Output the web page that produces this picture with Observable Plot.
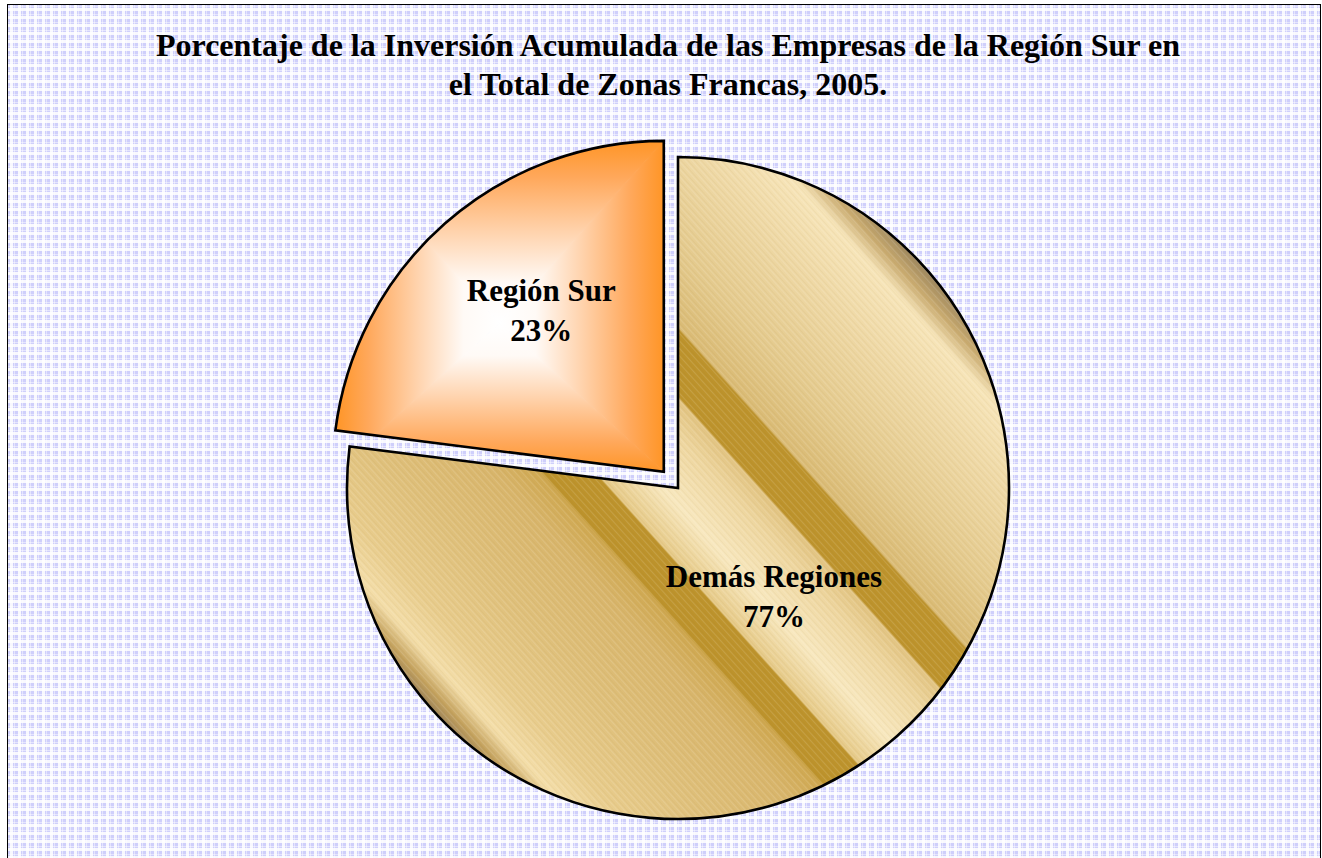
<!DOCTYPE html>
<html>
<head>
<meta charset="utf-8">
<script src="https://cdn.jsdelivr.net/npm/d3@7"></script>
<script src="https://cdn.jsdelivr.net/npm/@observablehq/plot@0.6"></script>
<style>
  html, body { margin: 0; padding: 0; width: 1322px; height: 858px; overflow: hidden; background: #ffffff; }
  #frame {
    position: absolute; left: 7px; top: 4px; width: 1314px; height: 880px;
    border: 1px solid #000; box-sizing: border-box;
    background-color: #cfcffb;
    background-image:
      linear-gradient(90deg, transparent 0 2px, rgba(255,255,255,0.85) 2px 5px, transparent 5px 6px, rgba(255,255,255,0.45) 6px 7px, transparent 7px),
      linear-gradient(0deg, transparent 0 2px, rgba(255,255,255,0.85) 2px 5px, transparent 5px 6px, rgba(255,255,255,0.45) 6px 7px, transparent 7px);
    background-size: 8px 8px;
  }
  #title {
    position: absolute; left: 7px; top: 0; width: 1322px; text-align: center;
    font: bold 32px "Liberation Serif", "Times New Roman", serif; line-height: 39px;
    padding-top: 26px; color: #000;
  }
  #chart { position: absolute; left: 0; top: 0; }
  #chart text { font-family: "Liberation Serif", "Times New Roman", serif; }
</style>
</head>
<body>
<div id="frame"></div>
<div id="title">Porcentaje de la Inversión Acumulada de las Empresas de la Región Sur en<br>el Total de Zonas Francas, 2005.</div>
<div id="chart"></div>
<script>
// ---- data ----
const categories = ["Demás Regiones", "Región Sur"];
const values = [77, 23];
const percentLabels = ["77%", "23%"];

// ---- presentation settings ----
const explodedCategory = "Región Sur";
const explodeOffset = 0.065;               // fraction of radius
const labelRadius = {"Demás Regiones": 0.43, "Región Sur": 0.62};
const labelAngleShift = {"Demás Regiones": -0.7, "Región Sur": 4.6}; // degrees

const pie = d3.pie().sort(null).startAngle(0).endAngle(2 * Math.PI)(values);
const slices = pie.map((p, i) => {
  const mid = (p.startAngle + p.endAngle) / 2;
  const off = categories[i] === explodedCategory ? explodeOffset : 0;
  const la = mid + labelAngleShift[categories[i]] * Math.PI / 180;
  const lr = labelRadius[categories[i]];
  return {
    category: categories[i],
    value: values[i],
    pct: percentLabels[i],
    startAngle: p.startAngle,
    endAngle: p.endAngle,
    ox: off * Math.sin(mid),
    oy: off * Math.cos(mid),
    lx: off * Math.sin(mid) + lr * Math.sin(la),
    ly: off * Math.cos(mid) + lr * Math.cos(la)
  };
});

function pieMark(index, scales) {
  const X = scales.x, Y = scales.y;
  const cx = X(0), cy = Y(0), R = X(1) - X(0);
  const g = d3.create("svg:g");
  const defs = g.append("defs");

  // gold striped gradient (along normal of 48deg stripes)
  const nx = Math.cos(-42 * Math.PI / 180), ny = Math.sin(-42 * Math.PI / 180);
  const gold = defs.append("linearGradient").attr("id", "goldGrad")
    .attr("gradientUnits", "userSpaceOnUse")
    .attr("x1", -nx * R).attr("y1", -ny * R).attr("x2", nx * R).attr("y2", ny * R);
  const v = t => (t + 331) / 662;
  [[-331, "#a0865a"], [-318, "#c4a25e"], [-298, "#f4dea9"], [-262, "#e8cc8c"], [-200, "#dfc07b"],
   [-125, "#d8b56b"], [-92, "#cfa850"], [-90, "#bd932c"], [-52, "#bd932c"], [-50, "#e6ca88"],
   [-12, "#f8e8bf"], [35, "#eed69f"], [60, "#e2c482"], [62, "#bd932c"], [106, "#bd932c"],
   [108, "#dabb75"], [160, "#e4ca8d"], [240, "#efd9a6"], [292, "#f7e5b9"], [312, "#c9ab70"], [331, "#9c865e"]]
    .forEach(([t, c]) => gold.append("stop").attr("offset", v(t)).attr("stop-color", c));

  // fine line texture
  const pat = defs.append("pattern").attr("id", "goldLines")
    .attr("patternUnits", "userSpaceOnUse").attr("width", 7).attr("height", 5)
    .attr("patternTransform", "rotate(48)");
  pat.append("rect").attr("x", 0).attr("y", 0).attr("width", 7).attr("height", 1).attr("fill", "#ffffff").attr("opacity", 0.12);
  pat.append("rect").attr("x", 0).attr("y", 3).attr("width", 7).attr("height", 1).attr("fill", "#8a6a20").attr("opacity", 0.06);

  const arc = d3.arc().innerRadius(0).outerRadius(R);

  slices.forEach((s) => {
    const tx = cx + (X(s.ox) - X(0)), ty = cy + (Y(s.oy) - Y(0));
    const d = arc({startAngle: s.startAngle, endAngle: s.endAngle});
    if (s.category === explodedCategory) {
      // rectangular "from center" gradient
      const pts = [[0, 0]];
      for (let k = 0; k <= 60; k++) {
        const a = s.startAngle + (s.endAngle - s.startAngle) * k / 60;
        pts.push([R * Math.sin(a), -R * Math.cos(a)]);
      }
      const [x0, x1] = d3.extent(pts, p => p[0]);
      const [y0, y1] = d3.extent(pts, p => p[1]);
      const mx = (x0 + x1) / 2, my = (y0 + y1) / 2 + 0.05 * (y1 - y0);
      const clipId = "clipSur";
      defs.append("clipPath").attr("id", clipId).append("path").attr("d", d)
        .attr("transform", `translate(${tx},${ty})`);
      const stops = [[0, "#ffffff"], [0.22, "#fffaf6"], [0.5, "#ffd3ad"], [0.8, "#ffa85b"], [1, "#ff9526"]];
      const sides = [
        {id: "gL", ex: x0, ey: my, tri: [[mx, my], [x0, y0], [x0, y1]]},
        {id: "gR", ex: x1, ey: my, tri: [[mx, my], [x1, y0], [x1, y1]]},
        {id: "gT", ex: mx, ey: y0, tri: [[mx, my], [x0, y0], [x1, y0]]},
        {id: "gB", ex: mx, ey: y1, tri: [[mx, my], [x0, y1], [x1, y1]]}
      ];
      const clipG = g.append("g").attr("clip-path", `url(#${clipId})`);
      sides.forEach(sd => {
        const lg = defs.append("linearGradient").attr("id", sd.id).attr("gradientUnits", "userSpaceOnUse")
          .attr("x1", mx + tx).attr("y1", my + ty).attr("x2", sd.ex + tx).attr("y2", sd.ey + ty);
        stops.forEach(([o, c]) => lg.append("stop").attr("offset", o).attr("stop-color", c));
        clipG.append("path")
          .attr("d", "M" + sd.tri.map(p => [p[0] + tx, p[1] + ty].join(",")).join("L") + "Z")
          .attr("fill", `url(#${sd.id})`).attr("stroke", `url(#${sd.id})`).attr("stroke-width", 1);
      });
      g.append("path").attr("transform", `translate(${tx},${ty})`).attr("d", d)
        .attr("fill", "none").attr("stroke", "#000").attr("stroke-width", 2.6).attr("stroke-linejoin", "miter");
    } else {
      const gs = g.append("g").attr("transform", `translate(${tx},${ty})`);
      gs.append("path").attr("d", d).attr("fill", "url(#goldGrad)");
      gs.append("path").attr("d", d).attr("fill", "url(#goldLines)");
      gs.append("path").attr("d", d).attr("fill", "none")
        .attr("stroke", "#000").attr("stroke-width", 2.6).attr("stroke-linejoin", "miter");
    }
  });
  return g.node();
}

const chart = Plot.plot({
  width: 1322,
  height: 858,
  margin: 0,
  style: {background: "transparent", overflow: "visible", fontFamily: "Liberation Serif, Times New Roman, serif"},
  x: {domain: [-1, 1], range: [678 - 331, 678 + 331], axis: null},
  y: {domain: [-1, 1], range: [488 + 331, 488 - 331], axis: null},
  marks: [
    pieMark,
    Plot.text(slices, {
      x: "lx", y: "ly",
      text: d => `${d.category}\n${d.pct}`,
      fontSize: 31,
      fontWeight: "bold",
      lineHeight: 1.29,
      fill: "#000"
    })
  ]
});
document.getElementById("chart").appendChild(chart);
</script>
</body>
</html>
